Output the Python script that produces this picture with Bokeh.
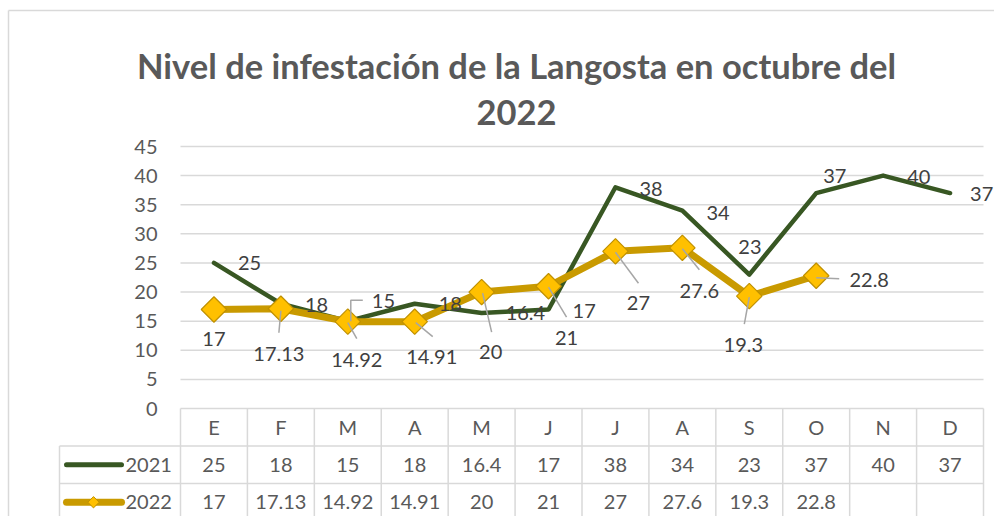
import numpy as np
from bokeh.plotting import figure
from bokeh.models import Range1d
from bokeh.core.properties import value
from bokeh.embed import file_html
from bokeh.resources import INLINE

# ---------------- data ----------------
months = ["E", "F", "M", "A", "M", "J", "J", "A", "S", "O", "N", "D"]
y2021 = [25, 18, 15, 18, 16.4, 17, 38, 34, 23, 37, 40, 37]
y2022 = [17, 17.13, 14.92, 14.91, 20, 21, 27, 27.6, 19.3, 22.8]
series_names = ["2021", "2022"]
yticks = [0, 5, 10, 15, 20, 25, 30, 35, 40, 45]
title_lines = ["Nivel de infestación de la Langosta en octubre del", "2022"]

# ---------------- styles / layout (pixels) ----------------
W, H = 994, 516
PLOT_LEFT, PLOT_RIGHT = 180, 983
PLOT_TOP, PLOT_BOTTOM = 146, 408
NCAT = len(months)
YMAX = yticks[-1]
PX = (PLOT_RIGHT - PLOT_LEFT) / NCAT
PY = (PLOT_BOTTOM - PLOT_TOP) / YMAX

GREEN = "#385723"
GOLD = "#C99A00"
GOLD_FILL = "#FFC000"
GOLD_EDGE = "#BF9000"
GRID = "#D9D9D9"
AXTEXT = "#595959"
LBLTEXT = "#404040"
LEADER = "#A6A6A6"
FONT = value("Lato")

# label offsets (screen px, y down)
lbl21_dx = [24, 24, 24, 24, 24, 24, 24, 24, -11, 7, 24, 20]
lbl21_dy = [0, 1, -20, 0, 0, 1, 2, 2, -28, -17, 1, 1]
lbl22_dx = [0, -2, 9, 17, 9, 18, 23, 17, -6, 53]
lbl22_dy = [29, 45, 38, 35, 60, 52, 52, 43, 49, 4]
# leader lines for 2022 labels: (start dx, start dy, end dx, end dy)
lead22 = [None, (0, 2, -2, 24), (0, 1, 9, 17), (1, 1, 18, 15), (1, 1, 10, 40),
          (0, 1, 18, 31), (0, 1, 23, 32), (0, 1, 17, 22), (0, 1, -5, 28), (0, 2, 23, 3)]
# elbow leader for 2021 label index 2
lead21_idx = 2
lead21_pts = [(3, 0), (3, -21), (15, -21)]


def cx(px):
    return (px - PLOT_LEFT) / PX


def cy(py):
    return (PLOT_BOTTOM - py) / PY


xc = [i + 0.5 for i in range(NCAT)]

p = figure(width=W, height=H, x_range=Range1d(cx(0), cx(W)), y_range=Range1d(cy(H), cy(0)),
           output_backend="svg", toolbar_location=None, min_border=0,
           x_axis_location=None, y_axis_location=None, title=None)
p.grid.visible = False
p.outline_line_color = None
p.background_fill_color = "white"
p.border_fill_color = "white"

# chart border (top and left edges visible)
p.segment(x0=[cx(8), cx(8)], y0=[cy(10), cy(10)], x1=[cx(W), cx(8)], y1=[cy(10), cy(H)],
          line_color=GRID, line_width=1.5)

# title
p.text(x=[cx(516)], y=[cy(65)], text=[title_lines[0]], text_font=FONT, text_font_style="bold",
       text_font_size="34.5px", text_color=AXTEXT, text_align="center", text_baseline="alphabetic")
p.text(x=[cx(516)], y=[cy(112)], text=[title_lines[1]], text_font=FONT, text_font_style="bold",
       text_font_size="34.5px", text_color=AXTEXT, text_align="center", text_baseline="alphabetic")

# gridlines
p.segment(x0=[0] * len(yticks), y0=yticks, x1=[NCAT] * len(yticks), y1=yticks,
          line_color=GRID, line_width=1.5)
# y tick labels
p.text(x=[cx(157)] * len(yticks), y=yticks, text=[str(t) for t in yticks], text_font=FONT,
       text_font_size="20px", text_color=AXTEXT, text_align="right", text_baseline="middle")

# ---------------- data table ----------------
ROW_H = 37.5
hdr_mid = PLOT_BOTTOM + ROW_H / 2
r1_top = PLOT_BOTTOM + ROW_H
r1_mid = r1_top + ROW_H / 2
r2_top = r1_top + ROW_H
r2_mid = r2_top + ROW_H / 2
LEG_LEFT = 59

# horizontal table lines
p.segment(x0=[cx(LEG_LEFT)] * 2, y0=[cy(r1_top), cy(r2_top)], x1=[NCAT] * 2,
          y1=[cy(r1_top), cy(r2_top)], line_color=GRID, line_width=1.5)
# vertical table lines
vx = list(range(NCAT + 1))
p.segment(x0=vx, y0=[0] * len(vx), x1=vx, y1=[cy(H)] * len(vx), line_color=GRID, line_width=1.5)
p.segment(x0=[cx(LEG_LEFT)], y0=[cy(r1_top)], x1=[cx(LEG_LEFT)], y1=[cy(H)],
          line_color=GRID, line_width=1.5)

p.text(x=xc, y=[cy(hdr_mid)] * NCAT, text=months, text_font=FONT, text_font_size="20px",
       text_color=AXTEXT, text_align="center", text_baseline="middle")
p.text(x=xc, y=[cy(r1_mid)] * NCAT, text=[f"{v:g}" for v in y2021], text_font=FONT,
       text_font_size="20px", text_color=AXTEXT, text_align="center", text_baseline="middle")
p.text(x=xc[:len(y2022)], y=[cy(r2_mid)] * len(y2022), text=[f"{v:g}" for v in y2022],
       text_font=FONT, text_font_size="20px", text_color=AXTEXT, text_align="center",
       text_baseline="middle")

# legend keys
p.line(x=[cx(66), cx(121)], y=[cy(r1_mid)] * 2, line_color=GREEN, line_width=5, line_cap="round")
p.line(x=[cx(66), cx(121)], y=[cy(r2_mid)] * 2, line_color=GOLD, line_width=7, line_cap="round")
p.scatter(x=[cx(93)], y=[cy(r2_mid)], marker="square", angle=np.pi / 4, size=8,
          fill_color=GOLD_FILL, line_color=GOLD_EDGE, line_width=1)
p.text(x=[cx(125)] * 2, y=[cy(r1_mid), cy(r2_mid)], text=series_names, text_font=FONT,
       text_font_size="20px", text_color=AXTEXT, text_align="left", text_baseline="middle")

# ---------------- series ----------------
p.line(x=xc, y=y2021, line_color=GREEN, line_width=4.5, line_join="round", line_cap="round")
x22 = xc[:len(y2022)]
p.line(x=x22, y=y2022, line_color=GOLD, line_width=7, line_join="round", line_cap="round")
p.scatter(x=x22, y=y2022, marker="square", angle=np.pi / 4, size=18,
          fill_color=GOLD_FILL, line_color=GOLD_EDGE, line_width=1.2)

# leaders
lx0, ly0, lx1, ly1 = [], [], [], []
for i, ld in enumerate(lead22):
    if ld is None:
        continue
    sx, sy, ex, ey = ld
    lx0.append(x22[i] + sx / PX)
    ly0.append(y2022[i] - sy / PY)
    lx1.append(x22[i] + ex / PX)
    ly1.append(y2022[i] - ey / PY)
p.segment(x0=lx0, y0=ly0, x1=lx1, y1=ly1, line_color=LEADER, line_width=1.5)
p.line(x=[xc[lead21_idx] + a / PX for a, b in lead21_pts],
       y=[y2021[lead21_idx] - b / PY for a, b in lead21_pts], line_color=LEADER, line_width=1.5)

# data labels
p.text(x=xc, y=y2021, text=[f"{v:g}" for v in y2021], x_offset=lbl21_dx, y_offset=lbl21_dy,
       text_font=FONT, text_font_size="20px", text_color=LBLTEXT, text_align="left",
       text_baseline="middle")
p.text(x=x22, y=y2022, text=[f"{v:g}" for v in y2022], x_offset=lbl22_dx, y_offset=lbl22_dy,
       text_font=FONT, text_font_size="20px", text_color=LBLTEXT, text_align="center",
       text_baseline="middle")

open("out.html", "w").write(file_html(p, INLINE))
